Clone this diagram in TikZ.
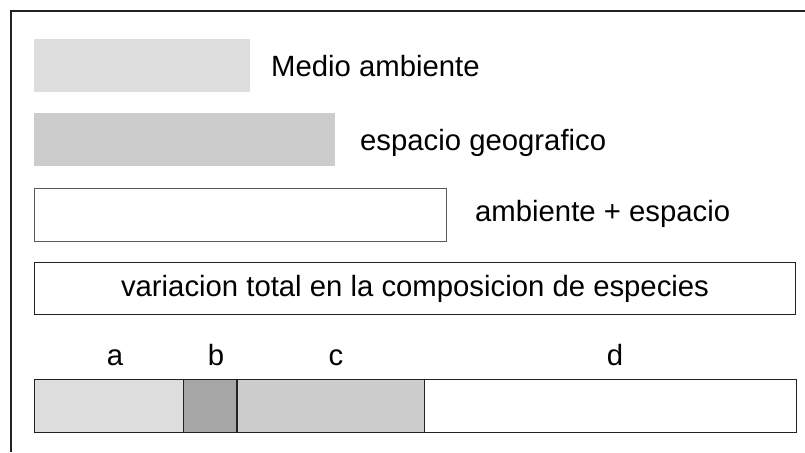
\documentclass[tikz,border=0pt]{standalone}
\usepackage{fontspec}
\setmainfont{Liberation Sans}
\usetikzlibrary{positioning}
\definecolor{paleGrey}{HTML}{DDDDDD}
\definecolor{midGrey}{HTML}{CCCCCC}
\definecolor{darkGrey}{HTML}{A6A6A6}
\definecolor{edgeGrey}{HTML}{5A5A5A}
\definecolor{inkGrey}{HTML}{222222}
\tikzstyle{legendBox} = [
 rectangle,
 anchor=north west,
 inner sep=0pt,
 minimum height=53pt
]
\tikzstyle{legendText} = [
 anchor=base west,
 inner sep=0pt,
 font=\fontsize{29.3}{34}\selectfont
]
\tikzstyle{part} = [
 rectangle,
 draw=inkGrey,
 inner sep=0pt,
 minimum height=53pt
]
\begin{document}
\begin{tikzpicture}[x=1pt,y=-1pt]
  \useasboundingbox (0,0) rectangle (805,452);
  \draw[inkGrey, line width=1.5pt] (11,452) -- (11,11) -- (805,11);
  % legend
  \node [legendBox, fill=paleGrey, minimum width=216pt] (ambiente) at (34,39) {};
  \node [legendText] (ambienteText) at (271,76.7) {Medio ambiente};
  \node [legendBox, fill=midGrey, minimum width=301pt] (espacio) at (34,113) {};
  \node [legendText] (espacioText) at (360,150.5) {espacio geografico};
  \node [legendBox, draw=edgeGrey, fill=white, minimum width=412pt] (ambos) at (34,188) {};
  \node [legendText] (ambosText) at (475,221.5) {ambiente + espacio};
  \node [legendBox, draw=inkGrey, fill=white, minimum width=761pt, minimum height=52pt] (total) at (34,262) {};
  \node [legendText, anchor=base] (totalText) at (415,296.7) {variacion total en la composicion de especies};
  % partition
  \node [part, anchor=north west, fill=paleGrey, minimum width=149pt] (partA) at (34,379) {};
  \node [part, fill=darkGrey, minimum width=53pt, right=0pt of partA] (partB) {};
  \node [part, fill=midGrey, minimum width=187pt, right=0pt of partB] (partC) {};
  \node [part, fill=white, minimum width=372pt, right=0pt of partC] (partD) {};
  \node [legendText, anchor=base] (nameA) at (115,365) {a};
  \node [legendText, anchor=base] (nameB) at (216,365) {b};
  \node [legendText, anchor=base] (nameC) at (336,365) {c};
  \node [legendText, anchor=base] (nameD) at (615,365) {d};
\end{tikzpicture}
\end{document}
